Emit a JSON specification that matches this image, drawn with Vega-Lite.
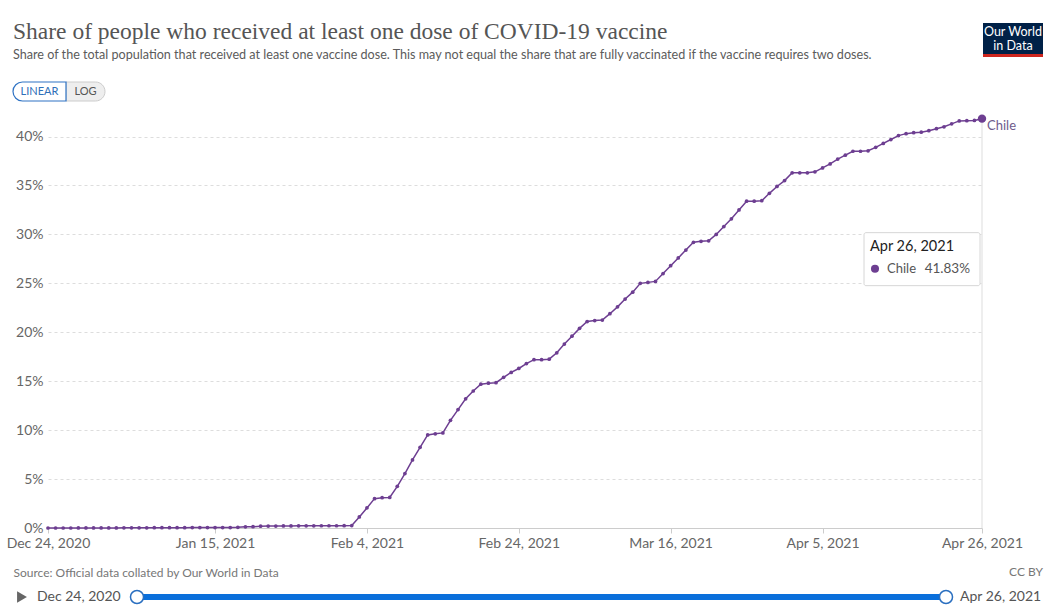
{
  "$schema": "https://vega.github.io/schema/vega-lite/v6.json",
  "width": 934,
  "height": 411,
  "autosize": {"type": "none"},
  "padding": {"left": 48, "top": 117, "right": 76, "bottom": 88},
  "background": "white",
  "title": {
    "text": "Share of people who received at least one dose of COVID-19 vaccine",
    "subtitle": "Share of the total population that received at least one vaccine dose. This may not equal the share that are fully vaccinated if the vaccine requires two doses.",
    "anchor": "start",
    "frame": "group",
    "dx": -35,
    "offset": -39,
    "font": "Liberation Serif",
    "fontSize": 23.5,
    "fontWeight": "normal",
    "color": "#555555",
    "subtitleFont": "Lato",
    "subtitleFontSize": 12.6,
    "subtitleColor": "#5b5b5b",
    "subtitlePadding": 6
  },
  "data": {
    "format": {"parse": {"date": "utc:'%Y-%m-%d'"}},
    "values": [
      {"date": "2020-12-24", "share": 0},
      {"date": "2020-12-25", "share": 0},
      {"date": "2020-12-26", "share": 0},
      {"date": "2020-12-27", "share": 0},
      {"date": "2020-12-28", "share": 0.01},
      {"date": "2020-12-29", "share": 0.01},
      {"date": "2020-12-30", "share": 0.01},
      {"date": "2020-12-31", "share": 0.01},
      {"date": "2021-01-01", "share": 0.01},
      {"date": "2021-01-02", "share": 0.01},
      {"date": "2021-01-03", "share": 0.02},
      {"date": "2021-01-04", "share": 0.02},
      {"date": "2021-01-05", "share": 0.02},
      {"date": "2021-01-06", "share": 0.02},
      {"date": "2021-01-07", "share": 0.03},
      {"date": "2021-01-08", "share": 0.03},
      {"date": "2021-01-09", "share": 0.03},
      {"date": "2021-01-10", "share": 0.03},
      {"date": "2021-01-11", "share": 0.03},
      {"date": "2021-01-12", "share": 0.04},
      {"date": "2021-01-13", "share": 0.04},
      {"date": "2021-01-14", "share": 0.04},
      {"date": "2021-01-15", "share": 0.04},
      {"date": "2021-01-16", "share": 0.04},
      {"date": "2021-01-17", "share": 0.04},
      {"date": "2021-01-18", "share": 0.07},
      {"date": "2021-01-19", "share": 0.12},
      {"date": "2021-01-20", "share": 0.13},
      {"date": "2021-01-21", "share": 0.19},
      {"date": "2021-01-22", "share": 0.2},
      {"date": "2021-01-23", "share": 0.2},
      {"date": "2021-01-24", "share": 0.21},
      {"date": "2021-01-25", "share": 0.21},
      {"date": "2021-01-26", "share": 0.22},
      {"date": "2021-01-27", "share": 0.22},
      {"date": "2021-01-28", "share": 0.22},
      {"date": "2021-01-29", "share": 0.23},
      {"date": "2021-01-30", "share": 0.23},
      {"date": "2021-01-31", "share": 0.23},
      {"date": "2021-02-01", "share": 0.24},
      {"date": "2021-02-02", "share": 0.25},
      {"date": "2021-02-03", "share": 1.13},
      {"date": "2021-02-04", "share": 2.05},
      {"date": "2021-02-05", "share": 3.0},
      {"date": "2021-02-06", "share": 3.1},
      {"date": "2021-02-07", "share": 3.12},
      {"date": "2021-02-08", "share": 4.26},
      {"date": "2021-02-09", "share": 5.56},
      {"date": "2021-02-10", "share": 6.96},
      {"date": "2021-02-11", "share": 8.25},
      {"date": "2021-02-12", "share": 9.51},
      {"date": "2021-02-13", "share": 9.62},
      {"date": "2021-02-14", "share": 9.72},
      {"date": "2021-02-15", "share": 11.0},
      {"date": "2021-02-16", "share": 12.1},
      {"date": "2021-02-17", "share": 13.2},
      {"date": "2021-02-18", "share": 14.0},
      {"date": "2021-02-19", "share": 14.7},
      {"date": "2021-02-20", "share": 14.8},
      {"date": "2021-02-21", "share": 14.85},
      {"date": "2021-02-22", "share": 15.4},
      {"date": "2021-02-23", "share": 15.9},
      {"date": "2021-02-24", "share": 16.3},
      {"date": "2021-02-25", "share": 16.8},
      {"date": "2021-02-26", "share": 17.2},
      {"date": "2021-02-27", "share": 17.2},
      {"date": "2021-02-28", "share": 17.25},
      {"date": "2021-03-01", "share": 17.9},
      {"date": "2021-03-02", "share": 18.8},
      {"date": "2021-03-03", "share": 19.6},
      {"date": "2021-03-04", "share": 20.4},
      {"date": "2021-03-05", "share": 21.1},
      {"date": "2021-03-06", "share": 21.2},
      {"date": "2021-03-07", "share": 21.25},
      {"date": "2021-03-08", "share": 21.9},
      {"date": "2021-03-09", "share": 22.6},
      {"date": "2021-03-10", "share": 23.4},
      {"date": "2021-03-11", "share": 24.1},
      {"date": "2021-03-12", "share": 25.0},
      {"date": "2021-03-13", "share": 25.1},
      {"date": "2021-03-14", "share": 25.2},
      {"date": "2021-03-15", "share": 26.0},
      {"date": "2021-03-16", "share": 26.8},
      {"date": "2021-03-17", "share": 27.6},
      {"date": "2021-03-18", "share": 28.4},
      {"date": "2021-03-19", "share": 29.2},
      {"date": "2021-03-20", "share": 29.3},
      {"date": "2021-03-21", "share": 29.35},
      {"date": "2021-03-22", "share": 30.0},
      {"date": "2021-03-23", "share": 30.8},
      {"date": "2021-03-24", "share": 31.6},
      {"date": "2021-03-25", "share": 32.5},
      {"date": "2021-03-26", "share": 33.4},
      {"date": "2021-03-27", "share": 33.4},
      {"date": "2021-03-28", "share": 33.45},
      {"date": "2021-03-29", "share": 34.2},
      {"date": "2021-03-30", "share": 34.9},
      {"date": "2021-03-31", "share": 35.5},
      {"date": "2021-04-01", "share": 36.3},
      {"date": "2021-04-02", "share": 36.3},
      {"date": "2021-04-03", "share": 36.3},
      {"date": "2021-04-04", "share": 36.4},
      {"date": "2021-04-05", "share": 36.8},
      {"date": "2021-04-06", "share": 37.2},
      {"date": "2021-04-07", "share": 37.7},
      {"date": "2021-04-08", "share": 38.1},
      {"date": "2021-04-09", "share": 38.5},
      {"date": "2021-04-10", "share": 38.5},
      {"date": "2021-04-11", "share": 38.55},
      {"date": "2021-04-12", "share": 38.9},
      {"date": "2021-04-13", "share": 39.3},
      {"date": "2021-04-14", "share": 39.7},
      {"date": "2021-04-15", "share": 40.1},
      {"date": "2021-04-16", "share": 40.3},
      {"date": "2021-04-17", "share": 40.4},
      {"date": "2021-04-18", "share": 40.45},
      {"date": "2021-04-19", "share": 40.6},
      {"date": "2021-04-20", "share": 40.8},
      {"date": "2021-04-21", "share": 41.0},
      {"date": "2021-04-22", "share": 41.3},
      {"date": "2021-04-23", "share": 41.6},
      {"date": "2021-04-24", "share": 41.62},
      {"date": "2021-04-25", "share": 41.65},
      {"date": "2021-04-26", "share": 41.83}
    ]
  },
  "layer": [
    {
      "data": {"values": [{}]},
      "mark": {"type": "rule", "color": "#dddddd", "strokeWidth": 1},
      "encoding": {
        "x": {"datum": {"year": 2021, "month": 4, "date": 26, "utc": true}, "type": "temporal"},
        "y": {"datum": 41.83, "type": "quantitative"},
        "y2": {"datum": 0}
      }
    },
    {
      "mark": {
        "type": "line",
        "color": "#6d3e91",
        "strokeWidth": 1.5,
        "point": {"filled": true, "size": 14, "color": "#6d3e91"}
      },
      "encoding": {
        "x": {
          "field": "date",
          "type": "temporal",
          "scale": {
            "type": "utc",
            "domain": [
              {"year": 2020, "month": 12, "date": 24, "utc": true},
              {"year": 2021, "month": 4, "date": 26, "utc": true}
            ]
          },
          "axis": {
            "values": [
              {"year": 2020, "month": 12, "date": 24, "utc": true},
              {"year": 2021, "month": 1, "date": 15, "utc": true},
              {"year": 2021, "month": 2, "date": 4, "utc": true},
              {"year": 2021, "month": 2, "date": 24, "utc": true},
              {"year": 2021, "month": 3, "date": 16, "utc": true},
              {"year": 2021, "month": 4, "date": 5, "utc": true},
              {"year": 2021, "month": 4, "date": 26, "utc": true}
            ],
            "labelExpr": "utcFormat(datum.value, '%b %-d, %Y')",
            "grid": false,
            "domainColor": "#cccccc",
            "tickColor": "#cccccc",
            "tickSize": 5,
            "labelFont": "Lato",
            "labelFontSize": 14,
            "labelColor": "#666666",
            "labelPadding": 3,
            "labelOverlap": false,
            "labelFlush": false,
            "title": "Source: Official data collated by Our World in Data",
            "titleFont": "Lato",
            "titleFontSize": 12,
            "titleFontWeight": "normal",
            "titleColor": "#777777",
            "titleAnchor": "start",
            "titleAlign": "left",
            "titleBaseline": "middle",
            "titleX": -35,
            "titleY": 44
          }
        },
        "y": {
          "field": "share",
          "type": "quantitative",
          "scale": {"domain": [0, 42], "nice": false},
          "axis": {
            "values": [0, 5, 10, 15, 20, 25, 30, 35, 40],
            "labelExpr": "datum.value + '%'",
            "grid": true,
            "gridDash": [3, 3],
            "gridColor": "#dddddd",
            "domain": false,
            "ticks": false,
            "labelFont": "Lato",
            "labelFontSize": 14,
            "labelColor": "#666666",
            "labelPadding": 5,
            "title": null
          }
        }
      }
    },
    {
      "transform": [{"filter": "utcmonth(datum.date) === 3 && utcdate(datum.date) === 26"}],
      "mark": {"type": "circle", "size": 70, "color": "#6d3e91", "opacity": 1},
      "encoding": {
        "x": {"field": "date", "type": "temporal"},
        "y": {"field": "share", "type": "quantitative"}
      }
    },
    {
      "transform": [{"filter": "utcmonth(datum.date) === 3 && utcdate(datum.date) === 26"}],
      "mark": {"type": "text", "align": "left", "baseline": "middle", "dx": 5, "dy": 7, "font": "Lato", "fontSize": 13, "color": "#6e5b8c"},
      "encoding": {
        "x": {"field": "date", "type": "temporal"},
        "y": {"field": "share", "type": "quantitative"},
        "text": {"value": "Chile"}
      }
    },
    {
      "data": {"values": [{}]},
      "mark": {"type": "rect", "fill": "white", "stroke": "#d6d6d6", "strokeWidth": 1, "cornerRadius": 2, "xOffset": -118, "x2Offset": -2, "yOffset": 114, "y2Offset": 167},
      "encoding": {
        "x": {"datum": {"year": 2021, "month": 4, "date": 26, "utc": true}, "type": "temporal"},
        "x2": {"datum": {"year": 2021, "month": 4, "date": 26, "utc": true}},
        "y": {"datum": 41.83, "type": "quantitative"},
        "y2": {"datum": 41.83}
      }
    },
    {
      "data": {"values": [{}]},
      "mark": {"type": "text", "align": "left", "baseline": "middle", "dx": -112, "dy": 128, "font": "Lato", "fontSize": 14.5, "fontWeight": "normal", "color": "#222222"},
      "encoding": {
        "x": {"datum": {"year": 2021, "month": 4, "date": 26, "utc": true}, "type": "temporal"},
        "y": {"datum": 41.83, "type": "quantitative"},
        "text": {"value": "Apr 26, 2021"}
      }
    },
    {
      "data": {"values": [{}]},
      "mark": {"type": "circle", "size": 65, "color": "#6d3e91", "opacity": 1, "xOffset": -107, "yOffset": 150},
      "encoding": {
        "x": {"datum": {"year": 2021, "month": 4, "date": 26, "utc": true}, "type": "temporal"},
        "y": {"datum": 41.83, "type": "quantitative"}
      }
    },
    {
      "data": {"values": [{}]},
      "mark": {"type": "text", "align": "left", "baseline": "middle", "dx": -95, "dy": 150, "font": "Lato", "fontSize": 13, "color": "#555555"},
      "encoding": {
        "x": {"datum": {"year": 2021, "month": 4, "date": 26, "utc": true}, "type": "temporal"},
        "y": {"datum": 41.83, "type": "quantitative"},
        "text": {"value": "Chile"}
      }
    },
    {
      "data": {"values": [{}]},
      "mark": {"type": "text", "align": "right", "baseline": "middle", "dx": -12, "dy": 150, "font": "Lato", "fontSize": 13.5, "color": "#555555"},
      "encoding": {
        "x": {"datum": {"year": 2021, "month": 4, "date": 26, "utc": true}, "type": "temporal"},
        "y": {"datum": 41.83, "type": "quantitative"},
        "text": {"value": "41.83%"}
      }
    },
    {
      "data": {"values": [{}]},
      "mark": {"type": "rect", "fill": "#002147", "xOffset": 1, "x2Offset": 61, "yOffset": -94, "y2Offset": -60},
      "encoding": {
        "x": {"datum": {"year": 2021, "month": 4, "date": 26, "utc": true}, "type": "temporal"},
        "x2": {"datum": {"year": 2021, "month": 4, "date": 26, "utc": true}},
        "y": {"datum": 42, "type": "quantitative"},
        "y2": {"datum": 42}
      }
    },
    {
      "data": {"values": [{}]},
      "mark": {"type": "rect", "fill": "#ce261e", "xOffset": 1, "x2Offset": 61, "yOffset": -63, "y2Offset": -60},
      "encoding": {
        "x": {"datum": {"year": 2021, "month": 4, "date": 26, "utc": true}, "type": "temporal"},
        "x2": {"datum": {"year": 2021, "month": 4, "date": 26, "utc": true}},
        "y": {"datum": 42, "type": "quantitative"},
        "y2": {"datum": 42}
      }
    },
    {
      "data": {"values": [{}]},
      "mark": {"type": "text", "align": "center", "baseline": "middle", "dx": 31, "dy": -85, "font": "Lato", "fontSize": 12.5, "color": "white"},
      "encoding": {
        "x": {"datum": {"year": 2021, "month": 4, "date": 26, "utc": true}, "type": "temporal"},
        "y": {"datum": 42, "type": "quantitative"},
        "text": {"value": "Our World"}
      }
    },
    {
      "data": {"values": [{}]},
      "mark": {"type": "text", "align": "center", "baseline": "middle", "dx": 31, "dy": -71, "font": "Lato", "fontSize": 12.5, "color": "white"},
      "encoding": {
        "x": {"datum": {"year": 2021, "month": 4, "date": 26, "utc": true}, "type": "temporal"},
        "y": {"datum": 42, "type": "quantitative"},
        "text": {"value": "in Data"}
      }
    },
    {
      "data": {"values": [{}]},
      "mark": {"type": "rect", "fill": "#eeeeee", "stroke": "#cccccc", "strokeWidth": 1, "cornerRadiusTopRight": 10, "cornerRadiusBottomRight": 10, "xOffset": 18, "x2Offset": 57, "yOffset": -35, "y2Offset": -16},
      "encoding": {
        "x": {"datum": {"year": 2020, "month": 12, "date": 24, "utc": true}, "type": "temporal"},
        "x2": {"datum": {"year": 2020, "month": 12, "date": 24, "utc": true}},
        "y": {"datum": 42, "type": "quantitative"},
        "y2": {"datum": 42}
      }
    },
    {
      "data": {"values": [{}]},
      "mark": {"type": "rect", "fill": "white", "stroke": "#2f73c4", "strokeWidth": 1.2, "cornerRadiusTopLeft": 10, "cornerRadiusBottomLeft": 10, "xOffset": -35, "x2Offset": 18, "yOffset": -35, "y2Offset": -16},
      "encoding": {
        "x": {"datum": {"year": 2020, "month": 12, "date": 24, "utc": true}, "type": "temporal"},
        "x2": {"datum": {"year": 2020, "month": 12, "date": 24, "utc": true}},
        "y": {"datum": 42, "type": "quantitative"},
        "y2": {"datum": 42}
      }
    },
    {
      "data": {"values": [{}]},
      "mark": {"type": "text", "align": "center", "baseline": "middle", "dx": -8.5, "dy": -25.5, "font": "Lato", "fontSize": 11, "color": "#2f6fb8"},
      "encoding": {
        "x": {"datum": {"year": 2020, "month": 12, "date": 24, "utc": true}, "type": "temporal"},
        "y": {"datum": 42, "type": "quantitative"},
        "text": {"value": "LINEAR"}
      }
    },
    {
      "data": {"values": [{}]},
      "mark": {"type": "text", "align": "center", "baseline": "middle", "dx": 37.5, "dy": -25.5, "font": "Lato", "fontSize": 11, "color": "#555555"},
      "encoding": {
        "x": {"datum": {"year": 2020, "month": 12, "date": 24, "utc": true}, "type": "temporal"},
        "y": {"datum": 42, "type": "quantitative"},
        "text": {"value": "LOG"}
      }
    },
    {
      "data": {"values": [{}]},
      "mark": {"type": "text", "align": "right", "baseline": "middle", "dx": 61, "dy": 44, "font": "Lato", "fontSize": 12, "color": "#777777"},
      "encoding": {
        "x": {"datum": {"year": 2021, "month": 4, "date": 26, "utc": true}, "type": "temporal"},
        "y": {"datum": 0, "type": "quantitative"},
        "text": {"value": "CC BY"}
      }
    },
    {
      "data": {"values": [{}]},
      "mark": {"type": "rule", "color": "#0a6fdb", "strokeWidth": 6, "xOffset": 89, "x2Offset": -36, "yOffset": 69},
      "encoding": {
        "x": {"datum": {"year": 2020, "month": 12, "date": 24, "utc": true}, "type": "temporal"},
        "x2": {"datum": {"year": 2021, "month": 4, "date": 26, "utc": true}},
        "y": {"datum": 0, "type": "quantitative"}
      }
    },
    {
      "data": {"values": [{}]},
      "mark": {"type": "point", "filled": true, "fill": "white", "stroke": "#2a6fc0", "strokeWidth": 1.5, "size": 170, "opacity": 1, "xOffset": 89, "yOffset": 69},
      "encoding": {
        "x": {"datum": {"year": 2020, "month": 12, "date": 24, "utc": true}, "type": "temporal"},
        "y": {"datum": 0, "type": "quantitative"}
      }
    },
    {
      "data": {"values": [{}]},
      "mark": {"type": "point", "filled": true, "fill": "white", "stroke": "#2a6fc0", "strokeWidth": 1.5, "size": 170, "opacity": 1, "xOffset": -36, "yOffset": 69},
      "encoding": {
        "x": {"datum": {"year": 2021, "month": 4, "date": 26, "utc": true}, "type": "temporal"},
        "y": {"datum": 0, "type": "quantitative"}
      }
    },
    {
      "data": {"values": [{}]},
      "mark": {"type": "point", "shape": "triangle-right", "filled": true, "color": "#666666", "size": 130, "opacity": 1, "xOffset": -26, "yOffset": 69},
      "encoding": {
        "x": {"datum": {"year": 2020, "month": 12, "date": 24, "utc": true}, "type": "temporal"},
        "y": {"datum": 0, "type": "quantitative"}
      }
    },
    {
      "data": {"values": [{}]},
      "mark": {"type": "text", "align": "left", "baseline": "middle", "dx": -11, "dy": 69, "font": "Lato", "fontSize": 14, "color": "#555555"},
      "encoding": {
        "x": {"datum": {"year": 2020, "month": 12, "date": 24, "utc": true}, "type": "temporal"},
        "y": {"datum": 0, "type": "quantitative"},
        "text": {"value": "Dec 24, 2020"}
      }
    },
    {
      "data": {"values": [{}]},
      "mark": {"type": "text", "align": "left", "baseline": "middle", "dx": -22, "dy": 69, "font": "Lato", "fontSize": 14, "color": "#555555"},
      "encoding": {
        "x": {"datum": {"year": 2021, "month": 4, "date": 26, "utc": true}, "type": "temporal"},
        "y": {"datum": 0, "type": "quantitative"},
        "text": {"value": "Apr 26, 2021"}
      }
    }
  ],
  "config": {
    "view": {"stroke": null},
    "font": "Lato"
  }
}
